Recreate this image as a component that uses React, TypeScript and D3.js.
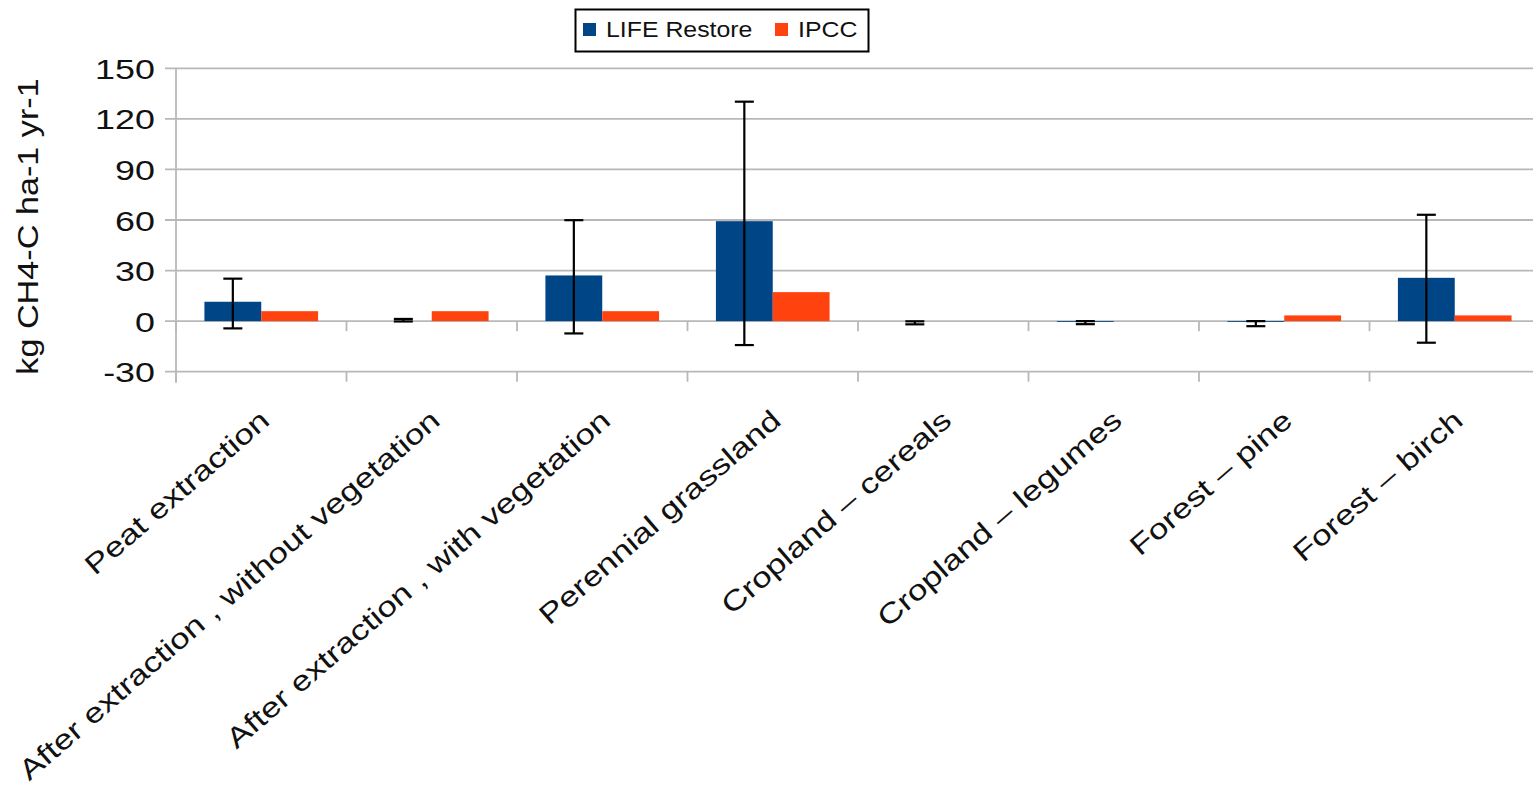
import React from 'react';
import * as d3 from 'd3';

const categories = [
  'Peat extraction',
  'After extraction , without vegetation',
  'After extraction , with vegetation',
  'Perennial grassland',
  'Cropland – cereals',
  'Cropland – legumes',
  'Forest – pine',
  'Forest – birch',
];
const lifeRestore = [11.5, 0.0, 27.1, 59.3, 0.0, -0.5, -0.5, 25.7];
const lifeErrHigh = [25.2, 1.3, 59.9, 130.2, -0.1, 0.0, 0.0, 63.1];
const lifeErrLow = [-4.3, -0.2, -7.3, -14.2, -1.9, -1.8, -3.0, -12.8];
const ipcc = [5.9, 5.9, 5.9, 17.2, 0, 0, 3.4, 3.4];
const yTicks = [-30, 0, 30, 60, 90, 120, 150];
const seriesNames = ['LIFE Restore', 'IPCC'];
const seriesColors = ['#004586', '#ff420e'];
const yTitle = 'kg CH4-C ha-1 yr-1';

const FONT = '"Liberation Sans", Arial, sans-serif';

export default function App() {
  const W = 1533;
  const H = 787;
  const x = d3.scaleBand<string>().domain(categories).range([176, 1540]).padding(0);
  const y = d3.scaleLinear().domain([-30, 150]).range([371.7, 68.3]);
  const bw = x.bandwidth() / 3;
  const grid = '#b8b8b8';
  const boundaries = categories.map((c) => x(c) as number).concat([x.range()[1]]);

  return (
    <svg
      width={W}
      height={H}
      style={{ position: 'absolute', left: 0, top: 0, background: '#fff' }}
      fontFamily={FONT}
    >
      <rect x={0} y={0} width={W} height={H} fill="#fff" />
      {yTicks.map((t) => (
        <line key={'g' + t} x1={165} x2={W} y1={y(t)} y2={y(t)} stroke={grid} strokeWidth={1.8} />
      ))}
      <line x1={176} x2={176} y1={y(150)} y2={y(-30) + 11} stroke={grid} strokeWidth={1.8} />
      {boundaries.map((b, i) => (
        <g key={'t' + i}>
          <line x1={b} x2={b} y1={y(0)} y2={y(0) + 10} stroke={grid} strokeWidth={1.8} />
          <line x1={b} x2={b} y1={y(-30)} y2={y(-30) + 10} stroke={grid} strokeWidth={1.8} />
        </g>
      ))}
      {yTicks.map((t) => (
        <g key={'yl' + t} transform={`translate(155,${y(t) + 10.5}) scale(1.33,1)`}>
          <text textAnchor="end" fontSize={27} fill="#111">
            {t}
          </text>
        </g>
      ))}
      <g transform={`translate(38,226.5) rotate(-90) scale(1.14,1)`}>
        <text textAnchor="middle" fontSize={30} fill="#111">
          {yTitle}
        </text>
      </g>
      {categories.map((c, i) => {
        const x0 = (x(c) as number) + bw / 2;
        const v = lifeRestore[i];
        const r = ipcc[i];
        return (
          <g key={'b' + i}>
            {v !== 0 && (
              <rect
                x={x0}
                width={bw}
                y={Math.min(y(v), y(0))}
                height={Math.abs(y(v) - y(0))}
                fill={seriesColors[0]}
              />
            )}
            {r !== 0 && (
              <rect
                x={x0 + bw}
                width={bw}
                y={Math.min(y(r), y(0))}
                height={Math.abs(y(r) - y(0))}
                fill={seriesColors[1]}
              />
            )}
          </g>
        );
      })}
      {categories.map((c, i) => {
        const cx = (x(c) as number) + bw;
        const hi = y(lifeErrHigh[i]);
        const lo = y(lifeErrLow[i]);
        const cap = 9.5;
        return (
          <g key={'e' + i} stroke="#000" strokeWidth={2.2}>
            <line x1={cx} x2={cx} y1={hi} y2={lo} />
            <line x1={cx - cap} x2={cx + cap} y1={hi} y2={hi} />
            <line x1={cx - cap} x2={cx + cap} y1={lo} y2={lo} />
          </g>
        );
      })}
      {categories.map((c, i) => {
        const cx = (x(c) as number) + x.bandwidth() / 2 + 10;
        return (
          <g key={'xl' + i} transform={`translate(${cx},423) rotate(-41) scale(1.25,1)`}>
            <text textAnchor="end" fontSize={28} fill="#111">
              {c}
            </text>
          </g>
        );
      })}
      <rect x={575.5} y={9.5} width={293} height={42} fill="#fff" stroke="#000" strokeWidth={2} />
      <rect x={583} y={23} width={13} height={13} fill={seriesColors[0]} />
      <g transform="translate(606,36.7) scale(1.13,1)">
        <text fontSize={22} fill="#111">
          {seriesNames[0]}
        </text>
      </g>
      <rect x={775} y={23} width={13} height={13} fill={seriesColors[1]} />
      <g transform="translate(798,36.7) scale(1.13,1)">
        <text fontSize={22} fill="#111">
          {seriesNames[1]}
        </text>
      </g>
    </svg>
  );
}
